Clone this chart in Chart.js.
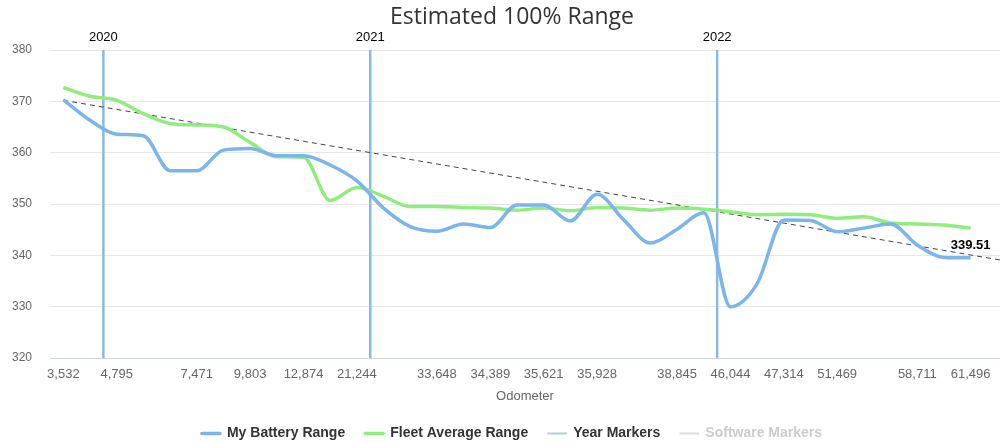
<!DOCTYPE html>
<html>
<head>
<meta charset="utf-8">
<title>Estimated 100% Range</title>
<script src="https://cdn.jsdelivr.net/npm/chart.js@4.4.1/dist/chart.umd.min.js"></script>
<style>
  html, body { margin: 0; padding: 0; background: #fff; }
</style>
</head>
<body>
<canvas id="rangeChart" width="1000" height="443"></canvas>
<script>
// one entry per reading, only some odometer values get a label on the axis
const myRange = [370.3, 366.3, 363.6, 363.3, 356.5, 356.5, 360.5, 360.8, 359.4, 359.4,
                 357.6, 354.5, 349.2, 345.6, 344.7, 346.1, 345.4, 349.8, 349.8, 346.7,
                 351.9, 346.9, 342.4, 345.1, 348.3, 330.0, 334.5, 346.9, 346.8, 344.6,
                 345.3, 346.1, 342.0, 339.6, 339.51];
const fleetRange = [372.7, 371.0, 370.2, 367.6, 365.7, 365.4, 365.0, 362.0, 359.2, 359.1,
                    350.7, 353.2, 351.5, 349.5, 349.5, 349.3, 349.2, 348.8, 349.2, 348.7,
                    349.3, 349.2, 348.8, 349.2, 349.0, 348.5, 347.9, 348.0, 347.9, 347.2,
                    347.5, 346.3, 346.1, 345.9, 345.3];
const tickIndex = [0, 2, 5, 7, 9, 11, 14, 16, 18, 20, 23, 25, 27, 29, 32, 34];
const tickLabels = ['3,532', '4,795', '7,471', '9,803', '12,874', '21,244', '33,648', '34,389',
                    '35,621', '35,928', '38,845', '46,044', '47,314', '51,469', '58,711', '61,496'];
const yearPos = [1.5, 11.5, 24.5];
const yearLabels = ['2020', '2021', '2022'];
const trendX = [0, 35.1];
const trendY = [370.2, 339.1];
const yMin = 320;
const yMax = 380;

const font = '"Liberation Sans", Arial, Helvetica, sans-serif';

const yearLines = yearPos.flatMap(p => [{ x: p, y: yMin }, { x: p, y: yMax }, { x: p, y: null }]);

// year captions above the plot + value label on the last reading
const markerText = {
    id: 'markerText',
    afterDatasetsDraw(chart) {
        const { ctx, scales: { x, y } } = chart;
        ctx.save();
        ctx.textAlign = 'center';
        ctx.textBaseline = 'middle';
        ctx.font = '13px ' + font;
        ctx.fillStyle = '#000';
        yearPos.forEach((p, i) => ctx.fillText(yearLabels[i], x.getPixelForValue(p), y.top - 13));

        const last = myRange.length - 1;
        const px = x.getPixelForValue(last);
        const py = y.getPixelForValue(myRange[last]) - 12;
        ctx.font = 'bold 13px ' + font;
        ctx.lineWidth = 3;
        ctx.strokeStyle = '#fff';
        ctx.lineJoin = 'round';
        ctx.strokeText(myRange[last].toFixed(2), px, py);
        ctx.fillStyle = '#000';
        ctx.fillText(myRange[last].toFixed(2), px, py);
        ctx.restore();
    }
};

new Chart(document.getElementById('rangeChart'), {
    type: 'line',
    data: {
        datasets: [
            {
                label: 'My Battery Range',
                data: myRange.map((v, i) => ({ x: i, y: v })),
                borderColor: '#7cb5ec',
                borderWidth: 3.5,
                cubicInterpolationMode: 'monotone',
                pointRadius: 0,
                order: 1,
                legendWidth: 3.5,
                legendText: '#333333'
            },
            {
                label: 'Fleet Average Range',
                data: fleetRange.map((v, i) => ({ x: i, y: v })),
                borderColor: '#90ed7d',
                borderWidth: 3.5,
                cubicInterpolationMode: 'monotone',
                pointRadius: 0,
                order: 2,
                legendWidth: 3.5,
                legendText: '#333333'
            },
            {
                label: 'Year Markers',
                data: yearLines,
                borderColor: '#8bb9e4',
                borderWidth: 2.5,
                tension: 0,
                spanGaps: false,
                pointRadius: 0,
                order: 4,
                legendColor: '#a9cfe0',
                legendWidth: 2,
                legendText: '#333333'
            },
            {
                label: 'Software Markers',
                data: [],
                borderColor: '#dddddd',
                borderWidth: 1,
                pointRadius: 0,
                order: 5,
                legendWidth: 2,
                legendText: '#cccccc'
            },
            {
                label: 'Trend',
                data: trendX.map((v, i) => ({ x: v, y: trendY[i] })),
                borderColor: '#444',
                borderWidth: 1,
                borderDash: [5, 4],
                tension: 0,
                pointRadius: 0,
                order: 3
            }
        ]
    },
    options: {
        responsive: false,
        animation: false,
        devicePixelRatio: 1,
        layout: { padding: { left: 24, right: 0, top: 0, bottom: -7.5 } },
        plugins: {
            title: {
                display: true,
                text: 'Estimated 100% Range',
                color: '#333',
                font: { family: '"Open Sans", sans-serif', size: 23, weight: 'normal' },
                padding: { top: 4, bottom: 18.4 }
            },
            legend: {
                position: 'bottom',
                labels: {
                    usePointStyle: true,
                    pointStyleWidth: 18,
                    padding: 20,
                    font: { family: font, size: 14, weight: 'bold' },
                    generateLabels: chart => chart.data.datasets
                        .map((ds, i) => ({
                            text: ds.label,
                            datasetIndex: i,
                            pointStyle: 'line',
                            strokeStyle: ds.legendColor || ds.borderColor,
                            fillStyle: ds.legendColor || ds.borderColor,
                            lineWidth: ds.legendWidth,
                            lineCap: 'round',
                            fontColor: ds.legendText,
                            hidden: false
                        }))
                        .filter(item => item.text !== 'Trend')
                },
                onClick: () => {}
            },
            tooltip: { enabled: false }
        },
        scales: {
            x: {
                type: 'linear',
                min: -0.5,
                max: 35.1,
                grid: { display: false, drawTicks: false },
                border: { color: '#ccd6eb', width: 1 },
                afterBuildTicks: scale => { scale.ticks = tickIndex.map(v => ({ value: v })); },
                ticks: {
                    autoSkip: false,
                    maxRotation: 0,
                    padding: 8.2,
                    color: '#666',
                    font: { family: font, size: 13 },
                    callback: v => tickLabels[tickIndex.indexOf(v)]
                },
                title: {
                    display: true,
                    text: 'Odometer',
                    color: '#666',
                    font: { family: font, size: 13 },
                    padding: { top: -1.8, bottom: 2.7 }
                }
            },
            y: {
                min: yMin,
                max: yMax,
                afterFit: scale => { scale.width = 26; },
                grid: { color: '#e6e6e6', drawTicks: false },
                border: { display: false },
                ticks: {
                    stepSize: 10,
                    // mirrored so the labels are not clipped to the narrow axis box
                    mirror: true,
                    crossAlign: 'far',
                    padding: -38,
                    color: '#666',
                    font: { family: font, size: 12 }
                }
            }
        }
    },
    plugins: [markerText]
});
</script>
</body>
</html>
